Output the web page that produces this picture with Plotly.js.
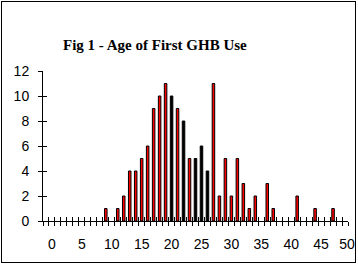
<!DOCTYPE html>
<html>
<head>
<meta charset="utf-8">
<script src="https://cdn.plot.ly/plotly-3.0.1.min.js"></script>
<style>
  html, body { margin: 0; padding: 0; background: #fff; }
  #frame { position: absolute; left: 1px; top: 1px; width: 355px; height: 262px;
           box-sizing: border-box; border: 1px solid #000; overflow: hidden; }
  #chart { position: absolute; left: -2px; top: -2px; width: 358px; height: 264px; }
</style>
</head>
<body>
<div id="frame"><div id="chart"></div></div>
<script>
// Age at first GHB use (years) and number of respondents
const ages   = [9, 11, 12, 13, 14, 15, 16, 17, 18, 19, 20, 21, 22, 23, 24, 25, 26, 27, 28, 29, 30, 31, 32, 33, 34, 36, 37, 41, 44, 47];
const counts = [1,  1,  2,  4,  4,  5,  6,  9, 10, 11, 10,  9,  8,  5,  5,  6,  4, 11,  2,  5,  2,  5,  3,  1,  2,  3,  1,  2,  1,  1];
const xTickVals = [0, 5, 10, 15, 20, 25, 30, 35, 40, 45];
const xTickText = ['0', '5', '10', '15', '20', '25', '30', '35', '40', '45'];
const xLastTickVal = [50];
const xLastTickText = ['50'];
const yTickVals = [0, 2, 4, 6, 8, 10, 12];
const chartTitle = 'Fig 1 - Age of First GHB Use';

// style: a few bars render as solid black in the original
const blackAges = [20, 22, 24, 25, 26];
const barColors = ages.map(a => blackAges.includes(a) ? '#000000' : '#ff0000');

const tickFont = { family: 'Liberation Sans Narrow, Arial Narrow, Liberation Sans, Arial, sans-serif', size: 14, color: '#000' };

const W = 358, H = 264;
const mL = 43, mR = 0, mT = 71, mB = 43;
const plotRightPx = 348;                 // end of the category axis
const xMin = -1.5, xMax = 49.5;
const pxPerUnit = (plotRightPx - mL) / (xMax - xMin);
const paperW = W - mL - mR;
const xDomainEnd = (plotRightPx - mL) / paperW;
const labelMax = xMin + paperW / pxPerUnit;

const traces = [
  {
    type: 'bar', x: ages, y: counts, width: 0.42,
    marker: { color: barColors, line: { color: '#000', width: 1 } },
    xaxis: 'x', yaxis: 'y', hoverinfo: 'skip', showlegend: false
  },
  { type: 'scatter', x: [], y: [], xaxis: 'x2', yaxis: 'y', showlegend: false, hoverinfo: 'skip' },
  { type: 'scatter', x: [], y: [], xaxis: 'x3', yaxis: 'y', showlegend: false, hoverinfo: 'skip' },
  { type: 'scatter', x: [], y: [], xaxis: 'x4', yaxis: 'y', showlegend: false, hoverinfo: 'skip' },
  { type: 'scatter', x: [], y: [], xaxis: 'x', yaxis: 'y2', showlegend: false, hoverinfo: 'skip' }
];

const baseX = {
  range: [xMin, xMax], showgrid: false, zeroline: false, fixedrange: true,
  tickmode: 'linear', tick0: xMin, dtick: 1, ticklen: 4, tickwidth: 1, tickcolor: '#000',
  showticklabels: false
};
const labelX = {
  anchor: 'y', range: [xMin, labelMax],
  showgrid: false, zeroline: false, showline: false, ticks: '', fixedrange: true,
  tickmode: 'array', tickfont: tickFont, ticklabelstandoff: 13, ticklabeloverflow: 'allow'
};

const layout = {
  width: W, height: H,
  margin: { l: mL, r: mR, t: mT, b: mB, pad: 0 },
  paper_bgcolor: 'rgba(0,0,0,0)', plot_bgcolor: 'rgba(0,0,0,0)',
  showlegend: false,
  bargap: 0,
  title: {
    text: '<b>' + chartTitle + '</b>',
    font: { family: 'Liberation Serif, Times New Roman, serif', size: 15, color: '#000' },
    xref: 'container', yref: 'container', x: 63 / W, xanchor: 'left',
    y: 1 - 45 / H, yanchor: 'middle'
  },
  xaxis: Object.assign({}, baseX, {
    domain: [0, xDomainEnd], anchor: 'y', ticks: 'outside',
    showline: true, linecolor: '#000', linewidth: 1
  }),
  xaxis2: Object.assign({}, baseX, {
    overlaying: 'x', anchor: 'y', ticks: 'inside', showline: false
  }),
  xaxis3: Object.assign({}, labelX, {
    domain: [0, 1], tickvals: xTickVals, ticktext: xTickText
  }),
  xaxis4: Object.assign({}, labelX, {
    overlaying: 'x3', tickvals: xLastTickVal, ticktext: xLastTickText, ticklabelshift: -4
  }),
  yaxis: {
    domain: [0, 1], anchor: 'x', range: [0, 12], fixedrange: true,
    tickmode: 'array', tickvals: yTickVals,
    ticks: 'outside', ticklen: 4, tickwidth: 1, tickcolor: '#000',
    showline: true, linecolor: '#000', linewidth: 1,
    showgrid: false, zeroline: false, tickfont: tickFont, ticklabelstandoff: 6
  },
  yaxis2: {
    overlaying: 'y', anchor: 'x', side: 'left', range: [0, 12], fixedrange: true,
    tickmode: 'array', tickvals: yTickVals,
    ticks: 'inside', ticklen: 4, tickwidth: 1, tickcolor: '#000',
    showline: false, showgrid: false, zeroline: false, showticklabels: false
  }
};

Plotly.newPlot('chart', traces, layout, { displayModeBar: false, staticPlot: true });
</script>
</body>
</html>
